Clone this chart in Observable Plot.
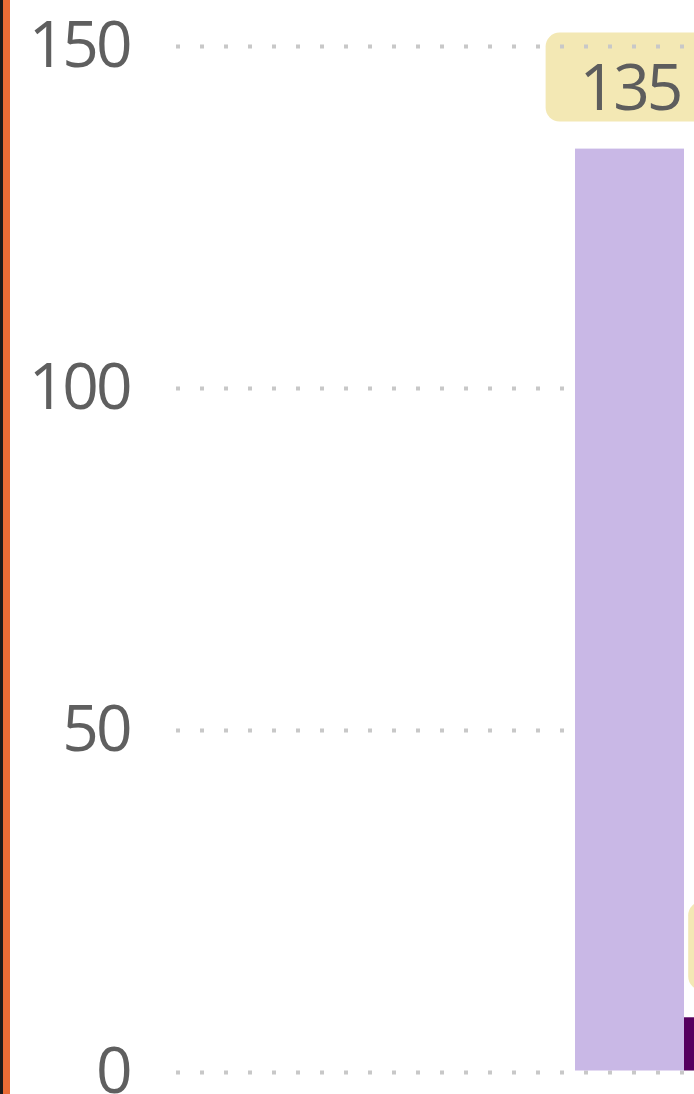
<!DOCTYPE html>
<html><head><meta charset="utf-8">
<script src="https://cdn.jsdelivr.net/npm/d3@7"></script>
<script src="https://cdn.jsdelivr.net/npm/@observablehq/plot@0.6"></script>
<style>
html,body{margin:0;padding:0;background:#fff;overflow:hidden;width:694px;height:1094px}
#edge{position:absolute;left:0;top:0;width:10px;height:1094px;background:linear-gradient(to right,#1a1a1a 0 3px,#E96C35 3px 10px);z-index:2}
#chart svg{display:block;overflow:hidden}
#chart svg text{letter-spacing:-3px}
</style></head><body><div id="edge"></div><div id="chart"></div>
<script>
// data
const series = ["Series A", "Series B"];
const values = [135, 8];
const yTicks = [0, 50, 100, 150];

// styles
const barColors = ["#C9B8E6", "#55005F"];
const labelFill = "#F3E8B4";
const textColor = "#5d5d5d";
const fontFamily = "'Open Sans', sans-serif";
const fontSize = 64;
const bandWidth = 109;

const rows = series.map((s, i) => ({series: s, value: values[i], label: String(values[i])}));

const ctx = document.createElement("canvas").getContext("2d");
ctx.font = `${fontSize}px 'Open Sans'`;
const boxWidth = (t) => ctx.measureText(t).width - 3 * t.length + 67;

const labelBoxes = rows.map(r => {
  const ext = (boxWidth(r.label) - bandWidth) / 2;
  return Plot.barY([r], {
    x: "series", y1: "value", y2: "value", fill: labelFill, rx: 14,
    insetTop: -116, insetBottom: 27, insetLeft: -ext, insetRight: -ext
  });
});

const chart = Plot.plot({
  width: 694, height: 1094,
  marginLeft: 176, marginRight: 0, marginTop: 46, marginBottom: 22,
  style: {fontFamily, fontSize: fontSize + "px", color: "#5f5f5f", background: "transparent"},
  x: {domain: series, range: [575, 575 + bandWidth * series.length], padding: 0, axis: null},
  y: {domain: [0, 150], ticks: yTicks, tickSize: 0, tickPadding: 47, label: null},
  color: {domain: series, range: barColors},
  marks: [
    ...labelBoxes,
    Plot.ruleY(yTicks, {stroke: "#c8c8c8", strokeWidth: 4, strokeDasharray: "4,20"}),
    Plot.barY(rows, {x: "series", y: "value", fill: "series", insetBottom: 1.5}),
    Plot.text(rows, {x: "series", y: "value", text: "label", dy: -60, fill: textColor,
      fontSize, fontFamily, textAnchor: "middle"})
  ]
});
document.getElementById("chart").appendChild(chart);
</script>
</body></html>
